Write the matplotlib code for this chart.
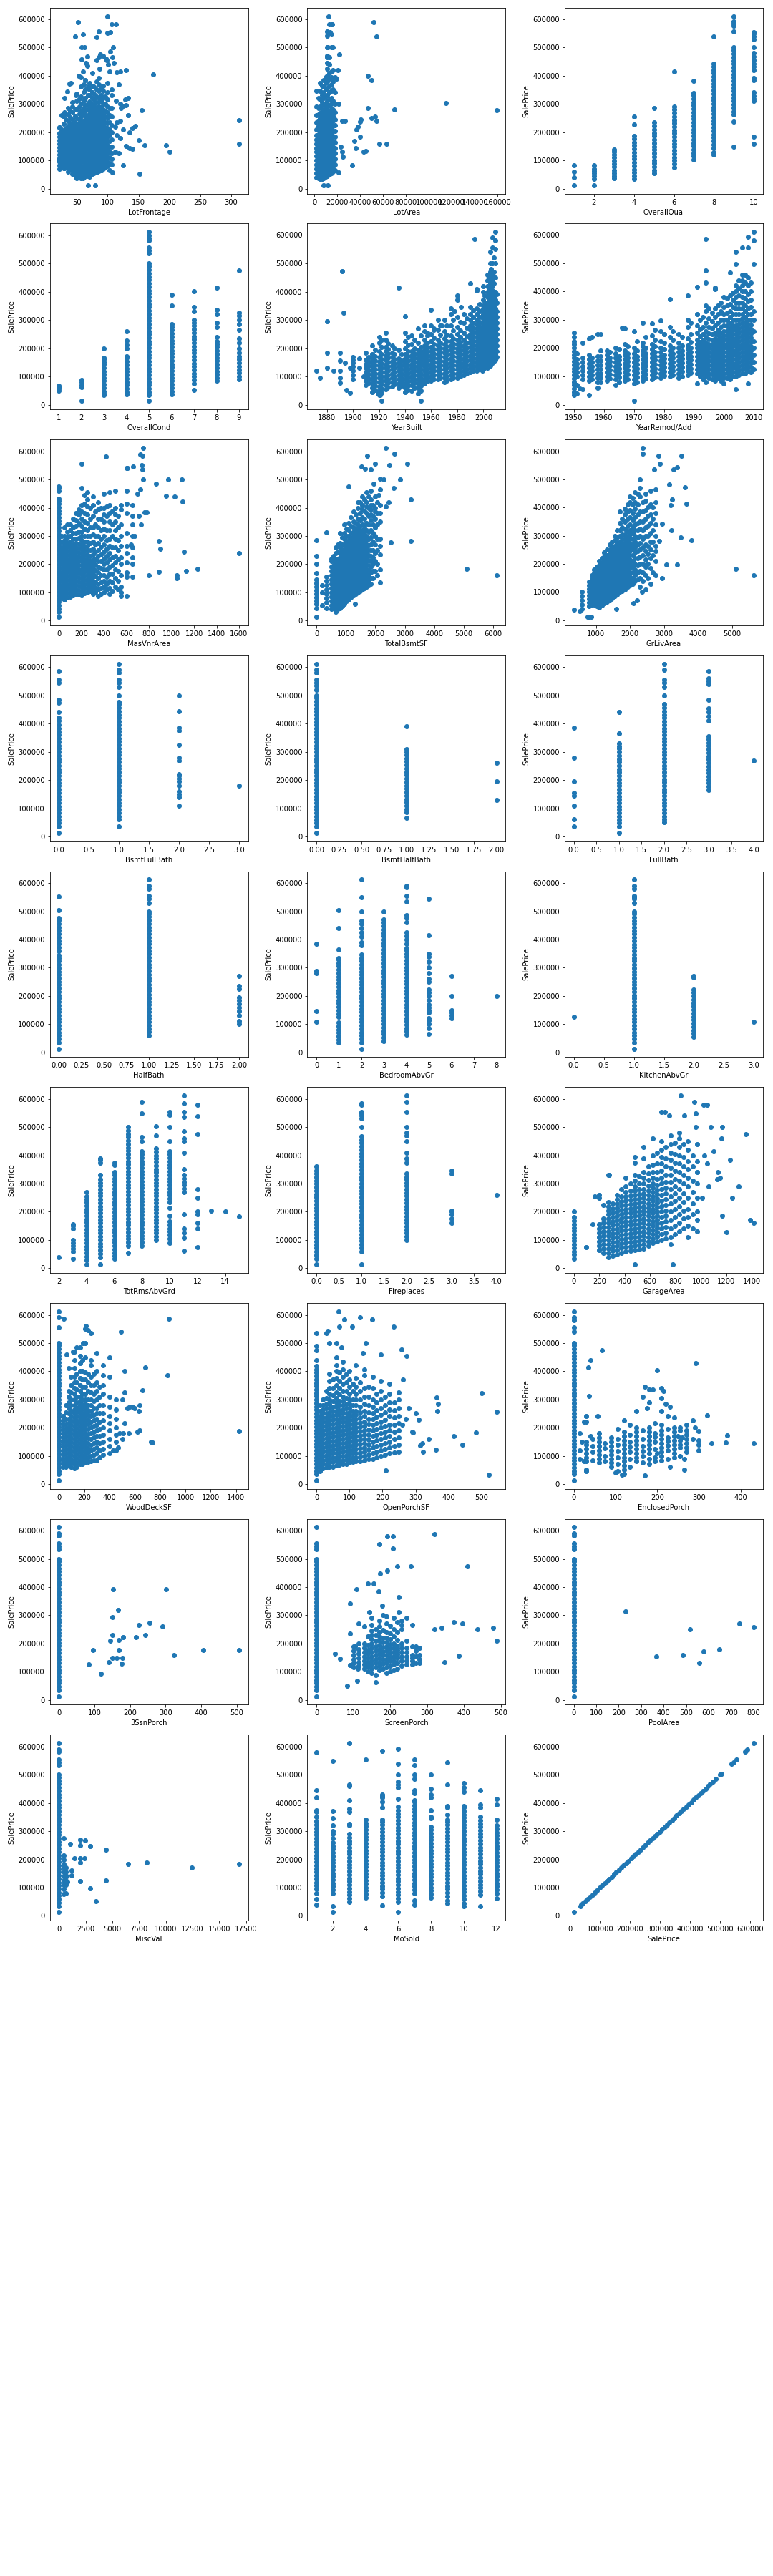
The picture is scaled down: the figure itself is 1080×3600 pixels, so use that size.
import numpy as np
import matplotlib.pyplot as plt

# SalePrice values are given in thousands of dollars.
# Dense vertical groups are stored as {x: [y, ...]}, loose points as (x, y).

lotfrontage_cols = {
    22: [70, 82, 95, 108, 120, 133, 146, 160, 172, 185, 198, 218],
    29: [72, 86, 99, 112, 126, 139, 152, 165, 178, 192, 205, 230, 260],
    36: [60, 74, 88, 101, 114, 128, 141, 155, 168, 181, 194, 208, 222, 240, 262, 285],
    43: [53, 66, 79, 93, 106, 119, 133, 146, 159, 173, 186, 199, 213, 226, 245, 270, 290, 305],
    50: [40, 55, 68, 82, 95, 108, 122, 135, 148, 162, 175, 189, 202, 216, 230, 250, 280, 310, 335],
    57: [38, 52, 65, 78, 92, 105, 118, 132, 145, 158, 172, 185, 198, 212, 225, 238, 255, 275, 300, 325, 360, 395],
    64: [44, 58, 71, 84, 98, 111, 124, 138, 151, 164, 178, 191, 204, 218, 231, 244, 258, 275, 295, 320, 350, 385],
    71: [48, 62, 75, 88, 102, 115, 128, 142, 155, 168, 182, 195, 208, 222, 235, 248, 262, 275, 290, 308, 330, 350, 375],
    78: [55, 68, 82, 95, 108, 122, 135, 148, 162, 175, 188, 202, 215, 228, 242, 255, 268, 282, 298, 315, 335, 360],
    85: [62, 75, 88, 102, 115, 128, 142, 155, 168, 182, 195, 208, 222, 235, 248, 262, 275, 290, 305, 322, 345, 370, 392],
    92: [70, 84, 97, 110, 124, 137, 150, 164, 177, 190, 204, 217, 230, 245, 262, 280, 300, 320, 345, 365],
    99: [80, 95, 110, 125, 140, 155, 170, 185, 200, 215, 232, 250, 270, 290, 315, 340, 375],
    106: [85, 105, 125, 150, 175, 200, 225, 255, 285, 330, 350],
}
lotfrontage_fill = {
    25: [76, 89, 102, 114, 127, 140, 153, 166, 179, 192, 210],
    32: [79, 92, 106, 119, 132, 146, 159, 172, 185, 198, 215, 245],
    39: [67, 81, 94, 108, 121, 134, 148, 161, 174, 188, 201, 215, 231, 252, 275],
    47: [47, 60, 73, 86, 100, 113, 126, 140, 153, 166, 180, 193, 206, 220, 236, 258, 283],
    54: [45, 58, 72, 85, 98, 112, 125, 138, 152, 165, 178, 192, 205, 218, 232, 245, 265, 290, 318],
    61: [41, 55, 68, 81, 95, 108, 121, 135, 148, 161, 175, 188, 201, 215, 228, 241, 265, 285, 310, 340, 370],
    68: [46, 60, 73, 86, 100, 113, 126, 140, 153, 166, 180, 193, 206, 220, 233, 246, 260, 280, 300, 330, 360],
    75: [52, 65, 78, 92, 105, 118, 132, 145, 158, 172, 185, 198, 212, 225, 238, 252, 265, 280, 298, 320, 340, 365],
    82: [58, 72, 85, 98, 112, 125, 138, 152, 165, 178, 192, 205, 218, 232, 245, 258, 272, 288, 305, 325, 350, 380],
    89: [66, 80, 93, 106, 120, 133, 146, 160, 173, 186, 200, 213, 226, 240, 255, 270, 288, 310, 330, 355],
    96: [75, 90, 104, 118, 132, 146, 160, 174, 188, 202, 216, 235, 255, 275, 300, 325],
    103: [90, 110, 130, 150, 170, 190, 210, 235, 260, 285],
}
lotfrontage_pts = [(100, 610), (52, 590), (107, 582), (114, 582), (47, 538), (60, 545), (82, 535), (85, 556),
                   (100, 552), (104, 553), (58, 500), (62, 500), (109, 500), (67, 468), (58, 458), (104, 484),
                   (88, 475), (93, 470), (85, 465), (97, 460), (108, 465), (110, 445), (65, 445), (67, 435),
                   (82, 455), (98, 455), (101, 440), (75, 410), (60, 415), (53, 400), (87, 425), (103, 415),
                   (115, 412), (120, 415), (130, 420), (40, 375), (38, 372), (48, 330), (35, 343), (30, 322),
                   (118, 370), (128, 315), (133, 320), (120, 300), (125, 292), (130, 295), (122, 285), (113, 310),
                   (133, 260), (145, 222), (140, 215), (135, 200), (115, 235), (120, 240), (125, 210), (112, 220),
                   (150, 172), (155, 279), (160, 155), (174, 403), (195, 153), (200, 130), (152, 52), (313, 242),
                   (313, 160), (125, 82), (108, 58), (103, 65), (90, 65), (68, 13), (80, 13), (50, 38), (60, 38),
                   (70, 43), (25, 260), (30, 270), (22, 218), (28, 258), (21, 100), (30, 72), (112, 130),
                   (118, 125), (135, 145), (140, 142), (130, 152), (120, 180), (115, 190)]

lotarea_cols = {
    1800: [40, 55, 70, 85, 100, 115, 130, 145, 160, 175, 190, 210, 235, 260, 290, 345],
    5000: [35, 48, 62, 75, 88, 102, 115, 128, 142, 155, 168, 182, 195, 208, 222, 235, 250, 268, 290, 315, 345, 375],
    8200: [38, 52, 65, 78, 92, 105, 118, 132, 145, 158, 172, 185, 198, 212, 225, 238, 252, 265, 280, 298, 320,
           340, 360, 385],
    11400: [45, 58, 72, 85, 98, 112, 125, 138, 152, 165, 178, 192, 205, 218, 232, 245, 258, 272, 290, 310, 330,
            355, 380, 400, 425, 445, 465, 500, 540, 555],
    14600: [55, 70, 85, 100, 115, 130, 145, 160, 175, 190, 205, 220, 235, 250, 265, 282, 300, 320, 345, 370, 395,
            415, 500, 545, 582],
    17800: [65, 85, 105, 125, 145, 165, 185, 205, 225, 245, 270, 300, 340, 395],
}
lotarea_fill = {
    3400: [38, 52, 66, 80, 94, 108, 122, 136, 150, 164, 178, 192, 206, 222, 240, 262, 285, 320],
    6600: [36, 50, 64, 78, 92, 106, 120, 134, 148, 162, 176, 190, 204, 218, 232, 246, 262, 280, 305, 330, 365],
    9800: [42, 56, 70, 84, 98, 112, 126, 140, 154, 168, 182, 196, 210, 224, 238, 252, 266, 282, 300, 325, 350,
           375, 395],
    13000: [50, 64, 78, 92, 106, 120, 134, 148, 162, 176, 190, 204, 218, 232, 246, 260, 275, 295, 315, 340, 365,
            390, 410, 440, 465],
    16200: [60, 78, 96, 114, 132, 150, 168, 186, 204, 222, 240, 258, 280, 310, 350, 380, 420],
}
lotarea_pts = [(12500, 610), (13200, 582), (15500, 582), (13800, 553), (16000, 500), (12000, 500), (11000, 470),
               (22000, 475), (20500, 420), (19500, 390), (21000, 300), (24000, 240), (27000, 240), (23000, 150),
               (24500, 130), (25000, 113), (21000, 57), (8000, 13), (11500, 13), (33000, 82), (35000, 170),
               (36000, 145), (37000, 210), (38000, 220), (40000, 185), (40500, 245), (40000, 238), (43000, 130),
               (45000, 133), (47000, 285), (47000, 400), (50000, 385), (50000, 250), (53000, 255), (54000, 240),
               (52000, 590), (54000, 538), (57000, 160), (63000, 160), (70000, 280), (115000, 302), (159000, 277)]

overallqual_cols = {
    1: [13, 39, 61, 82],
    2: [13, 35, 45, 55, 62, 70, 82],
    3: [37, 45, 55, 66, 77, 88, 99, 110, 121, 132, 140],
    4: [34, 45, 57, 69, 81, 93, 105, 117, 129, 141, 153, 165, 177, 188, 228, 256],
    5: [55, 66, 78, 90, 102, 114, 126, 138, 150, 162, 174, 186, 198, 210, 222, 234, 285],
    6: [76, 88, 100, 112, 124, 136, 148, 160, 172, 184, 196, 208, 220, 232, 244, 256, 268, 280, 290, 415],
    7: [103, 115, 127, 139, 151, 163, 175, 187, 199, 211, 223, 235, 247, 259, 271, 283, 295, 307, 319, 331, 340, 383],
    8: [120, 128, 145, 157, 169, 181, 193, 205, 217, 229, 241, 253, 265, 277, 289, 301, 313, 325, 337, 349, 361,
        373, 385, 397, 409, 421, 433, 443, 538],
    9: [150, 238, 262, 274, 286, 298, 310, 322, 334, 346, 358, 370, 382, 394, 406, 418, 430, 442, 454, 466, 478,
        490, 500, 556, 578, 585, 592, 611],
    10: [160, 184, 310, 320, 330, 342, 385, 392, 420, 432, 444, 456, 468, 480, 500, 530, 540, 548, 555],
}

overallcond_cols = {
    1: [50, 57, 61, 67],
    2: [13, 62, 70, 80, 87],
    3: [35, 40, 46, 60, 72, 84, 96, 108, 118, 130, 142, 150, 160, 167, 200],
    4: [38, 45, 57, 69, 81, 93, 105, 117, 129, 141, 153, 165, 172, 200, 211, 226, 260],
    5: [13, 35, 45, 57, 69, 81, 93, 105, 117, 129, 141, 153, 165, 177, 189, 201, 213, 225, 237, 249, 261, 273, 285,
        297, 309, 321, 333, 345, 357, 369, 381, 393, 405, 417, 429, 441, 453, 465, 477, 490, 500, 535, 545, 555,
        582, 590, 600, 611],
    6: [37, 48, 60, 72, 84, 96, 108, 120, 132, 144, 156, 168, 180, 192, 204, 216, 228, 240, 252, 264, 276, 286,
        350, 390],
    7: [52, 75, 87, 99, 111, 123, 135, 147, 159, 171, 183, 195, 207, 219, 231, 243, 255, 267, 279, 291, 300, 330,
        345, 402],
    8: [85, 95, 107, 119, 131, 143, 155, 167, 179, 191, 203, 215, 224, 240, 275, 290, 320, 335, 415],
    9: [90, 100, 112, 124, 136, 148, 160, 172, 184, 200, 220, 235, 265, 285, 300, 315, 325, 475],
}

yearbuilt_cols = {
    1900: [92, 105, 120, 135, 150, 160, 170],
    1910: [70, 85, 100, 115, 130, 145, 160, 185],
    1915: [45, 60, 75, 90, 105, 120, 135, 150, 165, 180, 210],
    1920: [35, 50, 65, 80, 95, 110, 125, 140, 155, 170, 190, 220, 240],
    1925: [55, 70, 85, 100, 115, 130, 145, 160, 175, 190, 205, 230, 255],
    1930: [65, 80, 95, 110, 125, 140, 155, 170, 185, 210],
    1935: [60, 75, 90, 105, 120, 135, 150, 165, 195],
    1940: [45, 60, 75, 90, 105, 120, 135, 150, 165, 180, 200, 225, 255, 313],
    1945: [50, 70, 85, 100, 115, 130, 145, 160, 175, 190, 215, 245],
    1950: [40, 60, 75, 90, 105, 120, 135, 150, 165, 180, 195, 220, 270],
    1955: [75, 90, 105, 120, 135, 150, 165, 180, 195, 210, 230, 260, 280],
    1960: [85, 100, 115, 130, 145, 160, 175, 190, 205, 225, 250, 280, 335],
    1965: [90, 105, 120, 135, 150, 165, 180, 195, 210, 230, 265, 300],
    1970: [80, 95, 110, 125, 140, 155, 170, 185, 200, 215, 235, 260, 300],
    1975: [90, 105, 120, 135, 150, 165, 180, 195, 210, 225, 245, 280, 320, 340],
    1980: [95, 110, 125, 140, 155, 170, 185, 200, 215, 230, 250, 275, 310, 370, 385],
    1985: [105, 120, 135, 150, 165, 180, 195, 210, 230, 255, 290, 320],
    1990: [115, 130, 145, 160, 175, 190, 205, 220, 235, 250, 265, 280, 300, 320, 345, 430],
    1995: [120, 135, 150, 165, 180, 195, 210, 225, 240, 255, 270, 285, 300, 320, 340, 405, 410],
    2000: [125, 140, 155, 170, 185, 200, 215, 230, 245, 260, 275, 290, 305, 320, 335, 350, 370, 400, 420],
    2003: [130, 145, 160, 175, 190, 205, 220, 235, 250, 265, 280, 295, 310, 325, 340, 360, 380, 400, 420, 440, 460],
    2005: [140, 155, 170, 185, 200, 215, 230, 245, 260, 275, 290, 305, 320, 335, 350, 365, 380, 395, 410, 430,
           450, 470, 500, 540],
    2007: [150, 165, 180, 195, 210, 225, 240, 255, 270, 285, 300, 315, 330, 345, 360, 375, 390, 405, 420, 440,
           460, 500, 555, 590],
    2009: [160, 180, 200, 220, 240, 260, 280, 300, 320, 340, 370, 400, 450, 500, 550, 580, 610],
}
yearbuilt_fill = {
    1912: [78, 93, 108, 123, 138, 153, 170],
    1917: [52, 67, 82, 97, 112, 127, 142, 157, 172, 195],
    1922: [42, 57, 72, 87, 102, 117, 132, 147, 162, 180, 205, 230],
    1927: [62, 77, 92, 107, 122, 137, 152, 167, 182, 198, 218],
    1932: [72, 87, 102, 117, 132, 147, 162, 178, 200],
    1937: [67, 82, 97, 112, 127, 142, 157, 180],
    1942: [52, 67, 82, 97, 112, 127, 142, 157, 172, 190, 212, 240],
    1947: [60, 77, 92, 107, 122, 137, 152, 167, 182, 200, 230],
    1952: [50, 67, 82, 97, 112, 127, 142, 157, 172, 187, 205, 245],
    1957: [82, 97, 112, 127, 142, 157, 172, 187, 202, 220, 245],
    1962: [92, 107, 122, 137, 152, 167, 182, 197, 215, 237, 265],
    1967: [97, 112, 127, 142, 157, 172, 187, 202, 220, 248, 280],
    1972: [87, 102, 117, 132, 147, 162, 177, 192, 207, 225, 248, 280],
    1977: [97, 112, 127, 142, 157, 172, 187, 202, 217, 235, 262, 300],
    1982: [102, 117, 132, 147, 162, 177, 192, 207, 222, 240, 262, 292],
    1987: [112, 127, 142, 157, 172, 187, 202, 220, 242, 272, 305],
    1992: [122, 137, 152, 167, 182, 197, 212, 227, 242, 257, 272, 290, 310, 332],
    1997: [127, 142, 157, 172, 187, 202, 217, 232, 247, 262, 277, 292, 310, 330, 355],
    1999: [122, 137, 152, 167, 182, 197, 212, 227, 242, 257, 272, 290, 312, 335],
    2001: [132, 147, 162, 177, 192, 207, 222, 237, 252, 267, 282, 297, 312, 328, 345, 385],
    2002: [137, 152, 167, 182, 197, 212, 227, 242, 257, 272, 287, 302, 318, 335, 360],
    2004: [137, 152, 167, 182, 197, 212, 227, 242, 257, 272, 287, 302, 317, 332, 350, 370, 390, 410, 445],
    2006: [147, 162, 177, 192, 207, 222, 237, 252, 267, 282, 297, 312, 327, 342, 357, 372, 387, 402, 420, 445, 480],
    2008: [155, 172, 187, 202, 217, 232, 247, 262, 277, 292, 307, 322, 337, 352, 367, 382, 400, 430, 470, 520],
    2010: [170, 190, 210, 230, 250, 270, 290, 310, 330, 360, 390],
}
yearbuilt_pts = [(1872, 122), (1875, 96), (1880, 185), (1880, 132), (1880, 295), (1885, 122), (1890, 185),
                 (1890, 157), (1890, 122), (1890, 96), (1890, 78), (1892, 473), (1893, 325), (1894, 149),
                 (1895, 53), (1898, 43), (1898, 130), (1905, 130), (1905, 165), (1908, 100), (1935, 415),
                 (1952, 14), (1922, 14), (1921, 35), (1919, 40), (1993, 585), (1957, 255), (1962, 270),
                 (1968, 280), (1978, 330), (1983, 345)]

yearremod_cols = {
    1950: [35, 45, 57, 69, 81, 93, 105, 117, 129, 141, 153, 165, 177, 189, 201, 213, 225, 240, 255],
    1953: [55, 90, 105, 120, 135, 150, 165, 220],
    1955: [35, 85, 100, 115, 130, 145, 160, 175, 235],
    1958: [60, 80, 95, 110, 125, 140, 155, 170, 250],
    1961: [85, 100, 115, 130, 145, 160, 175, 190],
    1964: [70, 90, 105, 120, 135, 150, 165, 180, 200],
    1967: [85, 100, 115, 130, 145, 160, 175, 190, 215, 270],
    1970: [13, 75, 90, 105, 120, 135, 150, 165, 180, 200, 260],
    1973: [85, 100, 115, 130, 145, 160, 175, 190, 205, 220, 289],
    1976: [90, 105, 120, 135, 150, 165, 180, 195, 215, 245, 286],
    1979: [95, 110, 125, 140, 155, 170, 185, 200, 225, 260, 296],
    1982: [100, 115, 130, 145, 160, 175, 190, 210, 240, 275, 372],
    1985: [95, 110, 125, 140, 155, 170, 185, 200, 220, 250],
    1988: [105, 120, 135, 150, 165, 180, 195, 210, 235, 275, 300, 385],
    1991: [75, 110, 125, 140, 155, 170, 185, 200, 215, 230, 255, 280, 320, 415],
    1994: [80, 100, 115, 130, 145, 160, 175, 190, 205, 220, 240, 260, 290, 330, 350, 430, 475, 585],
    1997: [85, 100, 115, 130, 145, 160, 175, 190, 205, 220, 235, 255, 280, 310, 340, 409, 413],
    2000: [75, 95, 110, 125, 140, 155, 170, 185, 200, 215, 230, 245, 260, 280, 300, 320, 345, 380],
    2002: [90, 105, 120, 135, 150, 165, 180, 195, 210, 225, 240, 255, 270, 290, 310, 330, 355, 385, 466],
    2004: [55, 100, 115, 130, 145, 160, 175, 190, 205, 220, 235, 250, 265, 280, 300, 320, 340, 360, 380, 400,
           420, 498, 539],
    2006: [110, 125, 140, 155, 170, 185, 200, 215, 230, 245, 260, 275, 290, 305, 320, 340, 360, 380, 400, 420,
           440, 460, 554],
    2008: [75, 120, 135, 150, 165, 180, 195, 210, 225, 240, 255, 270, 285, 300, 320, 340, 365, 390, 420, 450,
           554, 592],
    2010: [125, 150, 175, 200, 225, 260, 300, 330, 498, 581, 610],
}
yearremod_fill = {
    1951: [40, 70, 100, 115, 130, 145, 160, 180],
    1956: [90, 105, 120, 135, 150, 165],
    1959: [80, 95, 110, 125, 140, 155, 170, 190],
    1962: [92, 107, 122, 137, 152, 167, 185],
    1965: [80, 97, 112, 127, 142, 157, 172, 195],
    1968: [90, 107, 122, 137, 152, 167, 182, 205],
    1971: [80, 97, 112, 127, 142, 157, 172, 190, 225],
    1974: [92, 107, 122, 137, 152, 167, 182, 200, 240],
    1977: [97, 112, 127, 142, 157, 172, 187, 205, 230, 265],
    1980: [102, 117, 132, 147, 162, 177, 195, 220, 250],
    1983: [105, 120, 135, 150, 165, 180, 200, 230, 260],
    1986: [100, 117, 132, 147, 162, 177, 192, 210, 240],
    1989: [112, 127, 142, 157, 172, 187, 202, 222, 250, 290],
    1992: [100, 117, 132, 147, 162, 177, 192, 207, 222, 242, 268, 300],
    1993: [90, 107, 122, 137, 152, 167, 182, 197, 212, 230, 250, 275, 310],
    1995: [95, 110, 125, 140, 155, 170, 185, 200, 215, 232, 252, 275, 305, 340],
    1996: [90, 107, 122, 137, 152, 167, 182, 197, 212, 228, 248, 270, 295, 325],
    1998: [95, 110, 125, 140, 155, 170, 185, 200, 215, 230, 247, 265, 290, 320, 350],
    1999: [85, 102, 117, 132, 147, 162, 177, 192, 207, 222, 237, 255, 275, 300, 330, 360],
    2001: [95, 112, 127, 142, 157, 172, 187, 202, 217, 232, 247, 262, 280, 300, 325, 350, 375],
    2003: [100, 115, 130, 145, 160, 175, 190, 205, 220, 235, 250, 265, 280, 300, 320, 345, 370, 395],
    2005: [105, 120, 135, 150, 165, 180, 195, 210, 225, 240, 255, 270, 285, 300, 320, 340, 360, 385, 410, 440],
    2007: [110, 127, 142, 157, 172, 187, 202, 217, 232, 247, 262, 277, 292, 310, 330, 350, 375, 400, 430, 460],
    2009: [115, 132, 147, 162, 177, 192, 207, 222, 237, 252, 267, 282, 300, 320, 345, 370, 400, 430],
}
yearremod_pts = [(1952, 58), (1956, 238), (1959, 250), (1966, 272)]

masvnr_cols = {
    0: [13, 30, 42, 54, 66, 78, 90, 102, 114, 126, 138, 150, 162, 174, 186, 198, 210, 222, 234, 246, 258, 270,
        282, 294, 306, 318, 330, 342, 354, 366, 378, 390, 402, 415, 425, 432, 460, 470, 475],
    50: [75, 90, 105, 120, 135, 150, 165, 180, 195, 210, 225, 240, 255, 270, 285, 300, 330],
    100: [85, 100, 115, 130, 145, 160, 175, 190, 205, 220, 235, 250, 265, 280, 300, 320, 340],
    150: [95, 110, 125, 140, 155, 170, 185, 200, 215, 230, 245, 260, 275, 290, 310, 335, 355, 380],
    200: [90, 105, 120, 135, 150, 165, 180, 195, 210, 225, 240, 255, 270, 285, 300, 315, 335, 360, 385, 410,
          470, 555],
    250: [100, 115, 130, 145, 160, 175, 190, 205, 220, 235, 250, 265, 280, 300, 320, 345, 375, 405, 430, 455],
    300: [95, 110, 125, 140, 155, 170, 185, 200, 215, 235, 255, 280, 305, 330, 370, 410, 440],
    350: [88, 110, 130, 150, 170, 190, 210, 230, 250, 275, 300, 330, 360, 395, 420],
    400: [100, 120, 140, 160, 180, 200, 220, 245, 270, 300, 325, 350, 375, 400, 450],
    450: [95, 115, 140, 165, 190, 215, 240, 265, 290, 320, 350, 380, 410, 455],
    500: [120, 150, 180, 205, 230, 260, 290, 320, 350, 375, 400, 460],
    550: [88, 100, 120, 160, 200, 225, 265, 300, 340, 395, 410],
    600: [88, 155, 170, 205, 240, 265, 310, 380, 415, 460, 540],
    650: [155, 200, 225, 260, 300, 340, 370, 410],
}
masvnr_fill = {
    25: [80, 95, 110, 125, 140, 155, 170, 185, 200, 215, 230, 245, 260, 280, 300],
    75: [82, 97, 112, 127, 142, 157, 172, 187, 202, 217, 232, 247, 262, 278, 295, 315, 340],
    125: [90, 105, 120, 135, 150, 165, 180, 195, 210, 225, 240, 255, 270, 290, 310, 330, 360],
    175: [92, 107, 122, 137, 152, 167, 182, 197, 212, 227, 242, 257, 272, 292, 315, 345, 375, 395],
    225: [97, 112, 127, 142, 157, 172, 187, 202, 217, 232, 247, 262, 280, 300, 325, 350, 380, 415, 445],
    275: [105, 120, 135, 150, 165, 180, 195, 210, 228, 250, 275, 300, 330, 360, 400],
    325: [100, 118, 138, 158, 178, 198, 220, 245, 270, 300, 340, 385],
    375: [95, 115, 135, 160, 185, 210, 235, 262, 290, 320, 360, 400],
    425: [110, 130, 155, 180, 205, 230, 255, 285, 320, 370, 405],
    475: [105, 135, 165, 195, 225, 260, 300, 340, 390],
    525: [110, 140, 175, 215, 250, 285, 330, 370],
}
masvnr_pts = [(1600, 240), (1230, 183), (1130, 175), (1110, 245), (1100, 422), (1090, 500), (1050, 150),
              (1050, 160), (1030, 440), (970, 500), (950, 443), (900, 255), (890, 283), (890, 172), (860, 485),
              (800, 160), (780, 384), (760, 384), (750, 612), (740, 585), (720, 590), (735, 550), (740, 535),
              (745, 500), (660, 545), (610, 540), (420, 582), (710, 370), (730, 340), (720, 465), (700, 450),
              (670, 300), (640, 270)]

totalbsmt_cols = {
    0: [13, 45, 58, 70, 82, 95, 108, 120, 133, 145, 168, 200, 230, 285],
    200: [55, 100, 125],
    350: [45, 65, 80, 95, 110, 125, 140, 155, 313],
    500: [40, 55, 70, 85, 100, 115, 130, 145, 160, 175, 190, 210, 220],
    650: [35, 50, 65, 80, 95, 110, 125, 140, 155, 170, 185, 200, 215, 240, 260],
    800: [45, 60, 75, 90, 105, 120, 135, 150, 165, 180, 195, 210, 225, 240, 260, 275, 310],
    950: [60, 75, 90, 105, 120, 135, 150, 165, 180, 195, 210, 225, 240, 255, 270, 290, 310, 340],
    1100: [75, 90, 105, 120, 135, 150, 165, 180, 195, 210, 225, 240, 255, 270, 285, 300, 320, 345, 474],
    1250: [90, 105, 120, 135, 150, 165, 180, 195, 210, 225, 240, 255, 270, 285, 300, 315, 330, 350, 385],
    1400: [100, 115, 130, 145, 160, 175, 190, 205, 220, 235, 250, 265, 280, 295, 310, 325, 340, 360, 400, 420],
    1550: [110, 125, 140, 155, 170, 185, 200, 215, 230, 245, 260, 275, 290, 305, 320, 340, 365, 395, 410, 440],
    1700: [120, 135, 150, 165, 180, 195, 210, 225, 240, 255, 270, 285, 300, 320, 345, 380, 405, 420, 455],
    1850: [130, 150, 170, 190, 210, 230, 250, 270, 295, 320, 355, 375, 395, 410, 430, 460],
    2000: [175, 210, 240, 270, 300, 330, 360, 385, 400, 440],
    2150: [135, 180, 235, 265, 290, 350, 380, 410, 465],
}
totalbsmt_fill = {
    575: [45, 60, 75, 90, 105, 120, 135, 150, 165, 180, 195, 210, 230],
    725: [40, 55, 70, 85, 100, 115, 130, 145, 160, 175, 190, 205, 220, 245, 270],
    875: [52, 67, 82, 97, 112, 127, 142, 157, 172, 187, 202, 217, 232, 250, 270, 295],
    1025: [68, 82, 97, 112, 127, 142, 157, 172, 187, 202, 217, 232, 247, 262, 280, 300, 325],
    1175: [82, 97, 112, 127, 142, 157, 172, 187, 202, 217, 232, 247, 262, 277, 292, 310, 335, 365],
    1325: [95, 110, 125, 140, 155, 170, 185, 200, 215, 230, 245, 260, 275, 290, 305, 322, 345, 375],
    1475: [105, 120, 135, 150, 165, 180, 195, 210, 225, 240, 255, 270, 285, 300, 318, 335, 355, 380, 420],
    1625: [115, 130, 145, 160, 175, 190, 205, 220, 235, 250, 265, 280, 295, 312, 332, 360, 390, 430],
    1775: [125, 142, 160, 178, 196, 214, 232, 250, 268, 290, 315, 340, 370, 400, 440],
    1925: [150, 175, 200, 225, 250, 280, 310, 340, 370, 410],
    2075: [160, 200, 250, 290, 340, 380, 420],
}
totalbsmt_pts = [(6110, 160), (5095, 184), (3200, 430), (3200, 283), (3083, 557), (2833, 500), (2533, 276),
                 (2350, 612), (2650, 592), (1733, 584), (2000, 557), (2483, 551), (1517, 545), (1650, 538),
                 (1850, 535), (2167, 502), (2283, 500), (1933, 484), (2630, 470), (2450, 420), (2350, 405),
                 (2100, 445), (1300, 60), (650, 30)]

grliv_cols = {
    600: [40, 55, 70, 85, 100],
    800: [13, 50, 62, 75, 88, 100, 112, 125, 138],
    950: [55, 68, 80, 92, 105, 118, 130, 143, 155, 168, 180],
    1100: [45, 60, 75, 90, 105, 120, 135, 150, 165, 180, 195, 210],
    1250: [60, 75, 90, 105, 120, 135, 150, 165, 180, 195, 210, 225, 240],
    1400: [70, 85, 100, 115, 130, 145, 160, 175, 190, 205, 220, 235, 250, 270],
    1550: [85, 100, 115, 130, 145, 160, 175, 190, 205, 220, 235, 250, 265, 285, 300],
    1700: [100, 115, 130, 145, 160, 175, 190, 205, 220, 235, 250, 265, 280, 300, 320, 345, 385],
    1850: [110, 125, 140, 155, 170, 185, 200, 215, 230, 245, 260, 275, 290, 305, 325, 350, 375, 395],
    2000: [125, 140, 155, 170, 185, 200, 215, 230, 245, 260, 275, 290, 305, 320, 340, 365, 390, 420, 440],
    2150: [140, 160, 180, 200, 220, 240, 260, 280, 300, 320, 340, 365, 395, 420, 455],
    2300: [120, 150, 175, 200, 225, 250, 275, 300, 325, 350, 385, 440, 470, 500],
    2450: [110, 160, 190, 215, 245, 270, 300, 330, 360, 390, 425, 450],
    2600: [130, 185, 220, 250, 280, 310, 345, 375, 410, 460],
    2750: [160, 210, 265, 300, 340, 380, 420, 465],
}
grliv_fill = {
    875: [55, 68, 81, 94, 107, 120, 133, 146, 160],
    1025: [50, 62, 75, 88, 100, 112, 125, 138, 150, 163, 175, 190],
    1175: [52, 67, 82, 97, 112, 127, 142, 157, 172, 187, 202, 220],
    1325: [65, 80, 95, 110, 125, 140, 155, 170, 185, 200, 215, 230, 250],
    1475: [78, 93, 108, 123, 138, 153, 168, 183, 198, 213, 228, 243, 260, 280],
    1625: [92, 107, 122, 137, 152, 167, 182, 197, 212, 227, 242, 257, 275, 295, 320],
    1775: [105, 120, 135, 150, 165, 180, 195, 210, 225, 240, 255, 270, 287, 305, 330, 360],
    1925: [118, 133, 148, 163, 178, 193, 208, 223, 238, 253, 268, 283, 298, 315, 335, 360, 385, 410],
    2075: [130, 150, 170, 190, 210, 230, 250, 270, 290, 310, 330, 355, 380, 410, 435],
    2225: [145, 170, 195, 220, 245, 270, 295, 320, 345, 375, 410, 450],
    2375: [140, 170, 200, 230, 260, 290, 320, 350, 385, 420],
    2525: [150, 200, 235, 265, 300, 335, 370, 400],
    2675: [170, 230, 280, 320, 360, 400],
}
grliv_pts = [(353, 37), (525, 33), (755, 12), (856, 12), (5633, 159), (5100, 182), (3806, 283), (3619, 473),
             (3647, 414), (3489, 294), (3374, 198), (3216, 320), (3058, 198), (2942, 150), (3388, 543),
             (3273, 537), (3504, 584), (2842, 584), (2367, 612), (2367, 592), (2885, 557), (2712, 535),
             (3158, 483), (3230, 430), (3200, 409), (2942, 343), (2850, 282), (2750, 245), (2500, 200),
             (2350, 100), (2200, 70), (2100, 60), (1600, 40)]

bsmtfull_cols = {
    0: [13, 35, 47, 59, 71, 83, 95, 107, 119, 131, 143, 155, 167, 179, 191, 203, 215, 227, 239, 251, 263, 275,
        287, 299, 311, 323, 335, 347, 359, 371, 383, 395, 410, 420, 440, 475, 485, 545, 555, 585],
    1: [35, 60, 72, 84, 96, 108, 120, 132, 144, 156, 168, 180, 192, 204, 216, 228, 240, 252, 264, 276, 288, 300,
        312, 324, 336, 348, 360, 372, 384, 396, 408, 420, 432, 444, 456, 468, 478, 500, 530, 545, 555, 580, 590,
        612],
    2: [108, 140, 150, 160, 180, 195, 205, 215, 220, 270, 280, 325, 375, 385, 445, 500],
    3: [180],
}

bsmthalf_cols = {
    0: [13, 35, 47, 59, 71, 83, 95, 107, 119, 131, 143, 155, 167, 179, 191, 203, 215, 227, 239, 251, 263, 275,
        287, 299, 311, 323, 335, 347, 359, 371, 383, 395, 407, 419, 431, 443, 455, 467, 479, 491, 500, 520, 535,
        545, 555, 582, 590, 612],
    1: [65, 85, 97, 109, 121, 133, 145, 157, 169, 181, 193, 205, 217, 229, 241, 253, 265, 277, 289, 300, 310, 390],
    2: [130, 195, 260],
}

fullbath_cols = {
    0: [35, 62, 108, 145, 155, 195, 280, 385],
    1: [13, 35, 47, 59, 71, 83, 95, 107, 119, 131, 143, 155, 167, 179, 191, 203, 215, 227, 239, 251, 263, 275,
        287, 299, 311, 320, 330, 365, 440],
    2: [50, 60, 72, 84, 96, 108, 120, 132, 144, 156, 168, 180, 192, 204, 216, 228, 240, 252, 264, 276, 288, 300,
        312, 324, 336, 348, 360, 372, 384, 396, 408, 420, 432, 444, 456, 468, 500, 530, 545, 555, 590, 612],
    3: [165, 177, 189, 201, 213, 225, 237, 249, 261, 273, 285, 297, 309, 321, 333, 345, 355, 410, 425, 440, 455,
        485, 540, 550, 560, 585],
    4: [270],
}

halfbath_cols = {
    0: [13, 35, 47, 59, 71, 83, 95, 107, 119, 131, 143, 155, 167, 179, 191, 203, 215, 227, 239, 251, 263, 275,
        287, 299, 311, 323, 335, 345, 360, 372, 384, 396, 408, 420, 432, 444, 456, 468, 475, 503, 553],
    1: [60, 72, 84, 96, 108, 120, 132, 144, 156, 168, 180, 192, 204, 216, 228, 240, 252, 264, 276, 288, 300, 312,
        324, 336, 348, 360, 372, 384, 396, 408, 420, 432, 444, 456, 468, 480, 492, 500, 530, 545, 555, 580, 590,
        612],
    2: [100, 110, 130, 145, 160, 172, 185, 195, 225, 235, 270],
}

bedroom_cols = {
    0: [108, 145, 280, 288, 385],
    1: [35, 45, 57, 69, 81, 93, 105, 125, 137, 149, 161, 173, 185, 197, 209, 221, 233, 245, 257, 269, 281, 293,
        305, 317, 328, 335, 365, 440, 505],
    2: [13, 35, 47, 59, 71, 83, 95, 107, 119, 131, 143, 155, 167, 179, 191, 203, 215, 227, 239, 251, 263, 275,
        287, 299, 311, 323, 335, 347, 380, 390, 410, 425, 440, 455, 465, 500, 550, 612],
    3: [40, 52, 64, 76, 88, 100, 112, 124, 136, 148, 160, 172, 184, 196, 208, 220, 232, 244, 256, 268, 280, 292,
        304, 316, 328, 340, 352, 364, 376, 388, 400, 412, 424, 436, 448, 460, 472, 500],
    4: [62, 74, 86, 98, 110, 122, 134, 146, 158, 170, 182, 194, 206, 218, 230, 242, 254, 266, 278, 290, 302, 314,
        326, 338, 350, 362, 370, 385, 400, 412, 425, 460, 475, 485, 535, 555, 585, 590],
    5: [65, 85, 100, 112, 122, 140, 150, 160, 170, 185, 200, 212, 222, 250, 260, 280, 300, 320, 340, 350, 415, 545],
    6: [120, 130, 140, 150, 200, 270],
    8: [200],
}

kitchen_cols = {
    0: [127],
    1: [13, 35, 47, 59, 71, 83, 95, 107, 119, 131, 143, 155, 167, 179, 191, 203, 215, 227, 239, 251, 263, 275,
        287, 299, 311, 323, 335, 347, 359, 371, 383, 395, 407, 419, 431, 443, 455, 467, 479, 491, 500, 530, 545,
        550, 555, 580, 590, 612],
    2: [55, 67, 79, 91, 103, 115, 127, 139, 151, 163, 175, 187, 199, 211, 222, 265, 270],
    3: [108],
}

totrms_cols = {
    2: [40],
    3: [35, 60, 70, 80, 90, 100, 140, 150, 155],
    4: [13, 30, 42, 54, 66, 78, 90, 102, 114, 126, 138, 150, 162, 174, 186, 198, 210, 222, 235, 245, 255, 270],
    5: [13, 40, 52, 64, 76, 88, 100, 112, 124, 136, 148, 160, 172, 184, 196, 208, 220, 232, 244, 256, 268, 280,
        292, 304, 316, 330, 375, 385, 390],
    6: [35, 45, 55, 67, 79, 91, 103, 115, 127, 139, 151, 163, 175, 187, 199, 211, 223, 235, 247, 259, 271, 283,
        295, 307, 319, 331, 340, 365, 375],
    7: [55, 80, 92, 104, 116, 128, 140, 152, 164, 176, 188, 200, 212, 224, 236, 248, 260, 272, 284, 296, 308, 320,
        332, 344, 356, 368, 380, 392, 404, 416, 428, 440, 452, 464, 476, 488, 500],
    8: [80, 92, 104, 116, 128, 140, 152, 164, 176, 188, 200, 212, 224, 236, 248, 260, 272, 284, 296, 308, 320,
        332, 344, 356, 368, 380, 392, 404, 415, 450, 465, 550, 590],
    9: [100, 112, 124, 136, 148, 160, 172, 184, 196, 208, 220, 232, 244, 256, 268, 280, 292, 304, 316, 328, 340,
        352, 364, 376, 388, 400, 412, 425, 470, 503],
    10: [90, 105, 117, 129, 141, 153, 165, 185, 215, 235, 247, 259, 271, 283, 295, 307, 319, 331, 343, 355, 367,
         379, 391, 403, 415, 450, 500, 545, 555],
    11: [62, 108, 125, 140, 190, 270, 282, 294, 306, 318, 330, 350, 410, 450, 460, 485, 535, 555, 585, 612],
    12: [75, 140, 160, 190, 200, 250, 280, 475, 538, 580],
    13: [205],
    14: [200],
    15: [183],
}

fireplaces_cols = {
    0: [13, 35, 47, 59, 71, 83, 95, 107, 119, 131, 143, 155, 167, 179, 191, 203, 215, 227, 239, 251, 263, 275,
        287, 299, 311, 323, 335, 347, 360],
    1: [13, 60, 72, 84, 96, 108, 120, 132, 144, 156, 168, 180, 192, 204, 216, 228, 240, 252, 264, 276, 288, 300,
        312, 324, 336, 348, 360, 372, 384, 396, 408, 420, 432, 444, 456, 468, 500, 530, 540, 550, 555, 580, 585],
    2: [100, 112, 124, 136, 148, 160, 172, 184, 196, 208, 220, 232, 244, 256, 268, 280, 292, 304, 316, 324, 335,
        375, 390, 410, 450, 470, 480, 500, 555, 590, 612],
    3: [160, 175, 190, 200, 205, 335, 345],
    4: [260],
}

garage_cols = {
    0: [35, 48, 60, 72, 84, 96, 108, 120, 132, 144, 156, 168, 180, 200],
    200: [65, 80, 95, 110, 125, 140, 155, 250, 260],
    270: [40, 55, 70, 85, 100, 115, 130, 145, 160, 175, 190, 205, 220, 235, 330],
    340: [50, 65, 80, 95, 110, 125, 140, 155, 170, 185, 200, 215, 230, 245, 260],
    410: [60, 75, 90, 105, 120, 135, 150, 165, 180, 195, 210, 225, 240, 255, 270, 290, 320],
    480: [13, 65, 80, 95, 110, 125, 140, 155, 170, 185, 200, 215, 230, 245, 260, 275, 290, 310, 330, 375, 395],
    550: [70, 85, 100, 115, 130, 145, 160, 175, 190, 205, 220, 235, 250, 265, 280, 300, 320, 340, 390, 430],
    620: [90, 105, 120, 135, 150, 165, 180, 195, 210, 225, 240, 255, 270, 285, 300, 320, 340, 365, 400, 460],
    690: [100, 120, 140, 160, 180, 200, 220, 240, 260, 280, 300, 320, 345, 370, 395, 420, 450],
    760: [85, 110, 140, 170, 200, 230, 255, 280, 305, 330, 355, 385, 410, 440, 470],
    830: [130, 160, 190, 220, 250, 280, 310, 340, 370, 400, 430, 460, 480],
    900: [110, 150, 180, 210, 250, 290, 320, 350, 380, 420, 450],
    970: [130, 170, 200, 250, 300, 340, 380, 440],
}
garage_fill = {
    235: [55, 70, 85, 100, 115, 130, 145, 160, 175],
    305: [45, 62, 77, 92, 107, 122, 137, 152, 167, 182, 197, 212, 230],
    375: [55, 72, 87, 102, 117, 132, 147, 162, 177, 192, 207, 222, 237, 255, 280],
    445: [62, 77, 92, 107, 122, 137, 152, 167, 182, 197, 212, 227, 242, 257, 275, 300],
    515: [67, 82, 97, 112, 127, 142, 157, 172, 187, 202, 217, 232, 247, 262, 280, 300, 325],
    585: [80, 95, 110, 125, 140, 155, 170, 185, 200, 215, 230, 245, 260, 275, 292, 312, 335, 360],
    655: [95, 112, 127, 142, 157, 172, 187, 202, 217, 232, 247, 262, 277, 295, 315, 340, 370, 410],
    725: [105, 125, 145, 165, 185, 205, 225, 245, 265, 285, 305, 330, 360, 390, 430],
    795: [120, 150, 180, 210, 240, 265, 290, 315, 345, 375, 405, 445],
    865: [140, 175, 205, 235, 265, 300, 330, 360, 395, 440],
    935: [140, 190, 230, 270, 310, 360, 400],
}
garage_pts = [(1418, 160), (1390, 170), (1356, 475), (1300, 290), (1248, 250), (1230, 385), (1200, 127),
              (1166, 185), (1160, 460), (1170, 500), (1153, 320), (1130, 315), (1135, 340), (1100, 415),
              (1080, 500), (1050, 580), (1020, 580), (960, 550), (950, 590), (840, 612), (870, 540), (720, 555),
              (690, 555), (750, 540), (780, 13), (100, 75), (150, 155), (165, 255), (230, 225), (280, 330),
              (1030, 400), (1050, 370), (960, 500), (1010, 250), (1060, 290)]

wooddeck_cols = {
    0: [13, 35, 47, 59, 71, 83, 95, 107, 119, 131, 143, 155, 167, 179, 191, 203, 215, 227, 239, 251, 263, 275,
        287, 299, 311, 323, 335, 347, 359, 371, 383, 395, 407, 419, 431, 443, 455, 467, 479, 491, 500, 555, 590,
        612],
    30: [60, 75, 90, 105, 120, 135, 150, 165, 180, 195, 210, 225, 240],
    75: [65, 80, 95, 110, 125, 140, 155, 170, 185, 200, 215, 230, 250, 270, 290, 310, 330, 410],
    120: [55, 70, 85, 100, 115, 130, 145, 160, 175, 190, 205, 220, 235, 250, 265, 280, 300, 320, 340, 360, 380,
          410, 440, 470],
    165: [70, 85, 100, 115, 130, 145, 160, 175, 190, 205, 220, 235, 250, 265, 280, 295, 310, 330, 350, 375, 400,
          430, 455, 485],
    210: [75, 90, 105, 120, 135, 150, 165, 180, 195, 210, 225, 240, 255, 270, 285, 300, 320, 345, 370, 395, 450,
          500, 550],
    255: [80, 100, 120, 140, 160, 180, 200, 220, 240, 260, 280, 300, 325, 350, 380, 420, 440],
    300: [85, 110, 130, 150, 170, 190, 210, 230, 250, 270, 300, 330, 360, 400, 465],
    350: [105, 125, 150, 175, 200, 225, 250, 280, 320, 350, 385, 420],
    400: [110, 135, 160, 190, 215, 240, 275, 310, 380, 450],
    450: [120, 150, 175, 200, 230, 265, 300],
}
wooddeck_fill = {
    52: [62, 77, 92, 107, 122, 137, 152, 167, 182, 197, 212, 230, 255, 280],
    97: [60, 75, 90, 105, 120, 135, 150, 165, 180, 195, 210, 225, 240, 260, 280, 300, 325, 350, 380],
    142: [62, 77, 92, 107, 122, 137, 152, 167, 182, 197, 212, 227, 242, 257, 272, 290, 310, 335, 360, 390],
    187: [72, 87, 102, 117, 132, 147, 162, 177, 192, 207, 222, 237, 252, 267, 282, 300, 320, 345, 370, 400, 440],
    232: [78, 95, 112, 128, 145, 162, 178, 195, 212, 228, 245, 262, 280, 300, 330, 360, 390],
    277: [85, 105, 125, 145, 165, 185, 205, 225, 245, 270, 295, 320, 350, 390],
    322: [95, 120, 145, 170, 195, 220, 250, 280, 310, 345],
}
wooddeck_pts = [(1424, 187), (857, 385), (870, 585), (680, 413), (660, 333), (640, 278), (630, 260), (640, 190),
                (730, 150), (740, 147), (620, 185), (560, 275), (520, 325), (500, 300), (490, 540), (520, 400),
                (215, 560), (230, 545), (250, 535), (110, 470), (140, 485), (190, 500), (40, 585), (60, 460),
                (500, 160), (520, 215), (540, 270), (580, 275), (550, 180), (600, 270), (505, 180), (480, 180),
                (470, 130), (430, 120), (300, 85)]

openporch_cols = {
    0: [13, 35, 47, 59, 71, 83, 95, 107, 119, 131, 143, 155, 167, 179, 191, 203, 215, 227, 239, 251, 263, 275,
        287, 299, 311, 323, 335, 347, 359, 371, 383, 395, 407, 419, 440, 475, 490, 535],
    20: [55, 70, 85, 100, 115, 130, 145, 160, 175, 190, 205, 220, 235, 250, 265, 280, 300],
    40: [60, 75, 90, 105, 120, 135, 150, 165, 180, 195, 210, 225, 240, 255, 270, 285, 300, 320, 340, 365, 390],
    60: [65, 80, 95, 110, 125, 140, 155, 170, 185, 200, 215, 230, 245, 260, 275, 290, 305, 325, 350, 375, 400,
         420, 450],
    80: [70, 85, 100, 115, 130, 145, 160, 175, 190, 205, 220, 235, 250, 265, 280, 295, 310, 330, 355, 380, 405, 435],
    100: [75, 90, 105, 120, 135, 150, 165, 180, 195, 210, 225, 240, 255, 270, 285, 300, 320, 345, 370, 400],
    120: [80, 95, 110, 125, 140, 155, 170, 185, 200, 215, 230, 245, 260, 280, 300, 320, 345, 375, 420],
    145: [85, 100, 115, 130, 145, 160, 175, 190, 205, 220, 240, 260, 285, 310, 340, 385, 405],
    170: [90, 110, 130, 150, 170, 190, 210, 230, 250, 275, 300, 340, 380],
    195: [100, 120, 140, 160, 180, 200, 220, 245, 270, 300, 330, 365, 460],
    220: [110, 130, 150, 170, 190, 210, 240, 265, 290, 320, 355],
    250: [115, 140, 165, 190, 215, 240, 270, 300, 325],
}
openporch_fill = {
    10: [45, 60, 75, 90, 105, 120, 135, 150, 165, 180, 195, 210, 225, 240, 260, 280],
    30: [58, 72, 87, 102, 117, 132, 147, 162, 177, 192, 207, 222, 237, 252, 268, 285, 305, 330],
    50: [62, 78, 93, 108, 123, 138, 153, 168, 183, 198, 213, 228, 243, 258, 275, 295, 315, 340, 370],
    70: [68, 82, 97, 112, 127, 142, 157, 172, 187, 202, 217, 232, 247, 262, 278, 295, 318, 340, 365, 395],
    90: [72, 87, 102, 117, 132, 147, 162, 177, 192, 207, 222, 237, 252, 268, 285, 305, 330, 360, 390],
    110: [78, 93, 108, 123, 138, 153, 168, 183, 198, 213, 228, 243, 260, 280, 300, 330, 355],
    132: [82, 97, 112, 127, 142, 157, 172, 187, 202, 218, 235, 255, 275, 300, 330, 360],
    157: [88, 105, 122, 140, 158, 176, 194, 212, 232, 255, 280, 310, 345],
    182: [95, 115, 135, 155, 175, 195, 215, 238, 262, 290, 320],
    207: [105, 125, 145, 165, 185, 205, 228, 255, 280, 310],
    235: [112, 135, 160, 185, 210, 235, 262, 290],
}
openporch_pts = [(545, 257), (521, 33), (500, 323), (482, 182), (442, 139), (415, 169), (363, 308), (368, 285),
                 (365, 260), (362, 123), (341, 161), (323, 114), (314, 138), (310, 229), (293, 184), (272, 453),
                 (257, 476), (263, 370), (234, 557), (211, 49), (168, 583), (133, 591), (109, 557), (85, 583),
                 (70, 557), (67, 612), (34, 543), (30, 535), (40, 500), (60, 500), (140, 465), (150, 500),
                 (75, 485), (280, 270), (300, 250), (290, 185), (320, 145), (270, 230), (260, 210)]

enclosed_cols = {
    0: [13, 35, 47, 59, 71, 83, 95, 107, 119, 131, 143, 155, 167, 179, 191, 203, 215, 227, 239, 251, 263, 275,
        287, 299, 311, 323, 335, 347, 359, 371, 383, 395, 407, 419, 431, 443, 455, 467, 479, 491, 500, 540, 555,
        580, 590, 612],
    30: [45, 80, 95, 110, 125, 140, 150, 220],
    60: [75, 90, 105, 120, 135, 150, 165, 180],
    90: [60, 75, 90, 105, 120, 135, 150, 165],
    120: [35, 50, 65, 80, 95, 110, 125, 140, 155, 170, 185, 225],
    150: [80, 95, 110, 125, 140, 155, 170, 185, 200, 260],
    180: [70, 90, 110, 125, 140, 155, 170, 185, 200, 290, 335],
    210: [85, 100, 115, 130, 145, 160, 175, 190, 210, 260, 305, 340],
    240: [95, 110, 125, 140, 155, 170, 185, 200, 235],
    270: [115, 130, 145, 160, 175, 190, 210],
}
enclosed_fill = {
    15: [90, 120, 180],
    45: [85, 115, 135, 160],
    75: [80, 100, 128, 145],
    105: [45, 70, 95, 118, 140, 160, 195],
    135: [60, 88, 115, 132, 150, 175, 210],
    165: [75, 100, 118, 135, 160, 190],
    195: [80, 95, 125, 150, 168, 180, 215],
    225: [90, 120, 138, 152, 165, 195, 240],
    255: [100, 140, 155, 190, 200],
    300: [120, 140, 155],
}
enclosed_pts = [(432, 145), (368, 172), (364, 148), (330, 145), (320, 243), (300, 187), (292, 430), (200, 403),
                (68, 475), (40, 440), (35, 413), (37, 312), (25, 220), (58, 240), (30, 240), (40, 170), (20, 150),
                (25, 80), (30, 50), (200, 110), (170, 345), (190, 335), (165, 310), (175, 270), (215, 330),
                (220, 285), (230, 275), (255, 130), (265, 90), (265, 50), (230, 60), (170, 30), (115, 32),
                (100, 40), (290, 200), (285, 160), (260, 165), (250, 170), (285, 225)]

ssnporch_cols = {
    0: [13, 35, 47, 59, 71, 83, 95, 107, 119, 131, 143, 155, 167, 179, 191, 203, 215, 227, 239, 251, 263, 275,
        287, 299, 311, 323, 335, 347, 359, 371, 383, 395, 407, 419, 431, 443, 455, 467, 479, 491, 500, 535, 545,
        555, 582, 590, 612],
}
ssnporch_pts = [(84, 125), (96, 178), (119, 94), (140, 135), (144, 211), (151, 150), (151, 230), (151, 294),
                (152, 392), (163, 150), (168, 178), (168, 213), (166, 319), (176, 129), (179, 150), (180, 222),
                (216, 222), (224, 265), (244, 230), (255, 274), (291, 260), (302, 393), (323, 158), (406, 178),
                (507, 178)]

screenporch_cols = {
    0: [13, 35, 47, 59, 71, 83, 95, 107, 119, 131, 143, 155, 167, 179, 191, 203, 215, 227, 239, 251, 263, 275,
        287, 299, 311, 323, 335, 347, 359, 371, 383, 395, 407, 419, 431, 443, 455, 467, 479, 491, 500, 535, 545,
        555, 612],
    100: [115, 130, 145, 160, 175, 190],
    130: [110, 125, 140, 155, 170, 185, 200, 260],
    150: [95, 110, 125, 140, 155, 170, 185, 200, 215, 230, 245, 265, 290],
    170: [105, 120, 135, 150, 165, 180, 195, 210, 225, 240, 260, 280],
    190: [95, 115, 130, 145, 160, 175, 190, 205, 220, 240, 270, 295],
    210: [105, 125, 140, 155, 170, 185, 200, 225, 250, 290],
    230: [120, 140, 155, 170, 185, 200, 250, 265, 280],
    260: [125, 140, 150, 160, 190, 265],
    280: [130, 145, 160, 185],
}
screenporch_fill = {
    115: [120, 135, 150, 165, 180, 200],
    140: [100, 118, 133, 148, 163, 178, 195, 225],
    160: [88, 115, 130, 145, 160, 175, 190, 210, 230, 250],
    180: [112, 128, 143, 158, 173, 188, 205, 220, 248, 300],
    200: [100, 122, 138, 152, 168, 182, 198, 215, 235, 262],
    220: [110, 132, 148, 162, 178, 192, 212, 240, 275],
    245: [125, 138, 155, 170, 185, 210, 290],
    270: [130, 155, 175, 190],
}
screenporch_pts = [(51, 164), (63, 147), (83, 51), (91, 235), (91, 343), (92, 123), (104, 189), (108, 392),
                   (111, 68), (115, 270), (113, 110), (140, 414), (143, 312), (156, 414), (161, 64), (171, 552),
                   (168, 384), (173, 449), (179, 335), (191, 580), (191, 459), (208, 580), (208, 537), (223, 365),
                   (223, 312), (219, 474), (255, 474), (319, 588), (319, 250), (339, 255), (348, 134), (372, 277),
                   (385, 157), (395, 272), (409, 474), (437, 250), (479, 255), (488, 211)]

poolarea_cols = {
    0: [13, 35, 47, 59, 71, 83, 95, 107, 119, 131, 143, 155, 167, 179, 191, 203, 215, 227, 239, 251, 263, 275,
        287, 299, 311, 323, 335, 347, 359, 371, 383, 395, 407, 419, 431, 443, 455, 467, 479, 491, 500, 535, 545,
        555, 582, 590, 612],
}
poolarea_pts = [(229, 314), (368, 153), (484, 158), (516, 250), (560, 130), (577, 171), (649, 180), (738, 272),
                (802, 258)]

miscval_cols = {
    0: [13, 35, 47, 59, 71, 83, 95, 107, 119, 131, 143, 155, 167, 179, 191, 203, 215, 227, 239, 251, 263, 275,
        287, 299, 311, 323, 335, 347, 359, 371, 383, 395, 407, 419, 431, 443, 455, 467, 479, 491, 500, 535, 545,
        555, 582, 590, 612],
    450: [78, 95, 110, 125, 140, 155, 170, 185, 200, 215],
    620: [80, 110, 125, 140, 155, 170],
}
miscval_pts = [(460, 276), (1060, 254), (1470, 205), (1200, 160), (1200, 144), (1980, 270), (1980, 250),
               (1980, 205), (1980, 189), (1980, 122), (2440, 268), (2400, 205), (2950, 248), (2950, 98),
               (3450, 53), (4420, 234), (4420, 126), (6450, 185), (8240, 189), (12440, 171), (16860, 183),
               (800, 120), (700, 140)]

mosold_cols = {
    1: [40, 60, 80, 95, 107, 119, 131, 143, 155, 167, 179, 191, 203, 215, 227, 239, 251, 263, 275, 287, 299, 311,
        323, 335, 350, 370, 375, 420, 445, 580],
    2: [13, 35, 80, 92, 104, 116, 128, 140, 152, 164, 176, 188, 200, 212, 224, 236, 248, 260, 275, 290, 300, 320,
        345, 372, 550],
    3: [50, 62, 74, 86, 98, 110, 122, 134, 146, 158, 170, 182, 194, 206, 218, 230, 242, 254, 266, 278, 290, 320,
        325, 370, 380, 410, 460, 465, 612],
    4: [65, 77, 89, 101, 113, 125, 137, 149, 161, 173, 185, 197, 209, 221, 233, 245, 257, 269, 281, 293, 305, 317,
        329, 340, 555],
    5: [37, 70, 82, 94, 106, 118, 130, 142, 154, 166, 178, 190, 202, 214, 226, 238, 250, 262, 274, 286, 298, 310,
        322, 334, 340, 385, 405, 420, 425, 430, 585],
    6: [13, 50, 62, 74, 86, 98, 110, 122, 134, 146, 158, 170, 182, 194, 206, 218, 230, 242, 254, 266, 278, 290,
        302, 314, 326, 338, 350, 362, 374, 386, 415, 455, 465, 475, 500, 538, 592],
    7: [40, 55, 80, 92, 104, 116, 128, 140, 152, 164, 176, 188, 200, 212, 224, 236, 248, 260, 272, 284, 296, 308,
        320, 332, 344, 356, 368, 380, 392, 404, 410, 435, 445, 485, 500, 535, 555],
    8: [65, 77, 89, 101, 113, 125, 137, 149, 161, 173, 185, 197, 209, 221, 233, 245, 257, 269, 281, 293, 305, 315,
        345, 350, 375, 420, 430, 450, 500],
    9: [45, 55, 70, 82, 94, 106, 118, 130, 142, 154, 166, 178, 190, 202, 214, 226, 238, 250, 262, 274, 286, 298,
        310, 322, 334, 340, 360, 385, 390, 465, 545],
    10: [33, 45, 60, 72, 84, 96, 108, 120, 132, 144, 156, 168, 180, 192, 204, 216, 228, 240, 252, 264, 276, 288,
         300, 312, 324, 336, 348, 360, 372, 384, 390, 440, 455, 470],
    11: [35, 75, 87, 99, 111, 123, 135, 147, 159, 171, 183, 195, 207, 219, 231, 243, 255, 267, 279, 291, 303, 315,
         327, 339, 350, 385, 395, 445],
    12: [62, 80, 92, 104, 116, 128, 140, 152, 164, 176, 188, 200, 212, 224, 236, 248, 260, 272, 284, 296, 308, 320,
         340, 395, 415],
}

saleprice_k = [13, 35, 38, 43, 51, 59, 67, 75, 83, 91, 99, 107, 115, 123, 131, 139, 147, 155, 163, 171, 179, 187,
               195, 203, 211, 219, 227, 235, 243, 251, 259, 267, 275, 283, 291, 299, 307, 315, 323, 331, 339, 347,
               355, 363, 371, 379, 387, 395, 403, 411, 419, 427, 435, 443, 451, 459, 467, 475, 485, 500, 503, 538,
               545, 555, 582, 585, 590, 612]

panels = [
    ("LotFrontage", [lotfrontage_cols, lotfrontage_fill], lotfrontage_pts),
    ("LotArea", [lotarea_cols, lotarea_fill], lotarea_pts),
    ("OverallQual", [overallqual_cols], []),
    ("OverallCond", [overallcond_cols], []),
    ("YearBuilt", [yearbuilt_cols, yearbuilt_fill], yearbuilt_pts),
    ("YearRemod/Add", [yearremod_cols, yearremod_fill], yearremod_pts),
    ("MasVnrArea", [masvnr_cols, masvnr_fill], masvnr_pts),
    ("TotalBsmtSF", [totalbsmt_cols, totalbsmt_fill], totalbsmt_pts),
    ("GrLivArea", [grliv_cols, grliv_fill], grliv_pts),
    ("BsmtFullBath", [bsmtfull_cols], []),
    ("BsmtHalfBath", [bsmthalf_cols], []),
    ("FullBath", [fullbath_cols], []),
    ("HalfBath", [halfbath_cols], []),
    ("BedroomAbvGr", [bedroom_cols], []),
    ("KitchenAbvGr", [kitchen_cols], []),
    ("TotRmsAbvGrd", [totrms_cols], []),
    ("Fireplaces", [fireplaces_cols], []),
    ("GarageArea", [garage_cols, garage_fill], garage_pts),
    ("WoodDeckSF", [wooddeck_cols, wooddeck_fill], wooddeck_pts),
    ("OpenPorchSF", [openporch_cols, openporch_fill], openporch_pts),
    ("EnclosedPorch", [enclosed_cols, enclosed_fill], enclosed_pts),
    ("3SsnPorch", [ssnporch_cols], ssnporch_pts),
    ("ScreenPorch", [screenporch_cols, screenporch_fill], screenporch_pts),
    ("PoolArea", [poolarea_cols], poolarea_pts),
    ("MiscVal", [miscval_cols], miscval_pts),
    ("MoSold", [mosold_cols], []),
    ("SalePrice", [], list(zip([v * 1000 for v in saleprice_k], saleprice_k))),
]


def gather(col_dicts, pts):
    xs, ys = [], []
    for cols in col_dicts:
        for x, col in cols.items():
            xs += [x] * len(col)
            ys += col
    for x, y in pts:
        xs.append(x)
        ys.append(y)
    return np.array(xs, dtype=float), np.array(ys, dtype=float) * 1000


fig = plt.figure(figsize=(15, 50))
for i, (name, col_dicts, pts) in enumerate(panels):
    ax = fig.add_subplot(12, 3, i + 1)
    x, y = gather(col_dicts, pts)
    ax.scatter(x, y)
    ax.set_xlabel(name)
    ax.set_ylabel("SalePrice")

fig.tight_layout()
fig.savefig("out.png", dpi=72)
